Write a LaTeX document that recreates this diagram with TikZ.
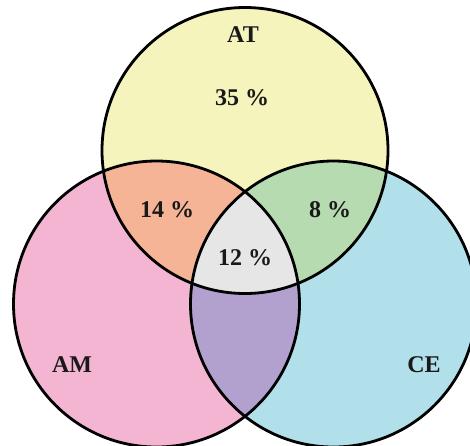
\documentclass[tikz,border=0pt]{standalone}
\usepackage{fontspec}
\setmainfont{Liberation Serif}
\definecolor{cAT}{HTML}{F5F4BD}
\definecolor{cAM}{HTML}{F4B5D3}
\definecolor{cCE}{HTML}{B1E0EB}
\definecolor{cATAM}{HTML}{F6B497}
\definecolor{cATCE}{HTML}{B6DBB1}
\definecolor{cAMCE}{HTML}{B2A1CE}
\definecolor{cALL}{HTML}{E6E6E6}
\begin{document}
\begin{tikzpicture}[x=1pt,y=-1pt,
  lbl/.style={font=\fontsize{24}{24}\selectfont\bfseries, text=black!90, inner sep=0pt},
  ring/.style={draw=black, line width=2.8pt}]
\useasboundingbox (0,0) rectangle (470,445);
\def\R{143}
\coordinate (T) at (245,150.5);
\coordinate (L) at (156.5,304);
\coordinate (Rc) at (333.5,304);
\begin{scope}
  \clip (0,0) rectangle (470,445);
  \fill[cAT] (T) circle (\R);
  \fill[cAM] (L) circle (\R);
  \fill[cCE] (Rc) circle (\R);
  \begin{scope}
    \clip (T) circle (\R);
    \fill[cATAM] (L) circle (\R);
    \fill[cATCE] (Rc) circle (\R);
  \end{scope}
  \begin{scope}
    \clip (L) circle (\R);
    \fill[cAMCE] (Rc) circle (\R);
  \end{scope}
  \begin{scope}
    \clip (T) circle (\R);
    \clip (L) circle (\R);
    \fill[cALL] (Rc) circle (\R);
  \end{scope}
  \draw[ring] (T) circle (\R);
  \draw[ring] (L) circle (\R);
  \draw[ring] (Rc) circle (\R);
\end{scope}
\node[lbl] (at) at (243,35) {AT};
\node[lbl] (p35) at (242,98) {35 \%};
\node[lbl] (p14) at (167,210) {14 \%};
\node[lbl] (p8) at (330,210) {8 \%};
\node[lbl] (p12) at (245,258) {12 \%};
\node[lbl] (am) at (72,365) {AM};
\node[lbl] (ce) at (424,365) {CE};
\end{tikzpicture}
\end{document}
